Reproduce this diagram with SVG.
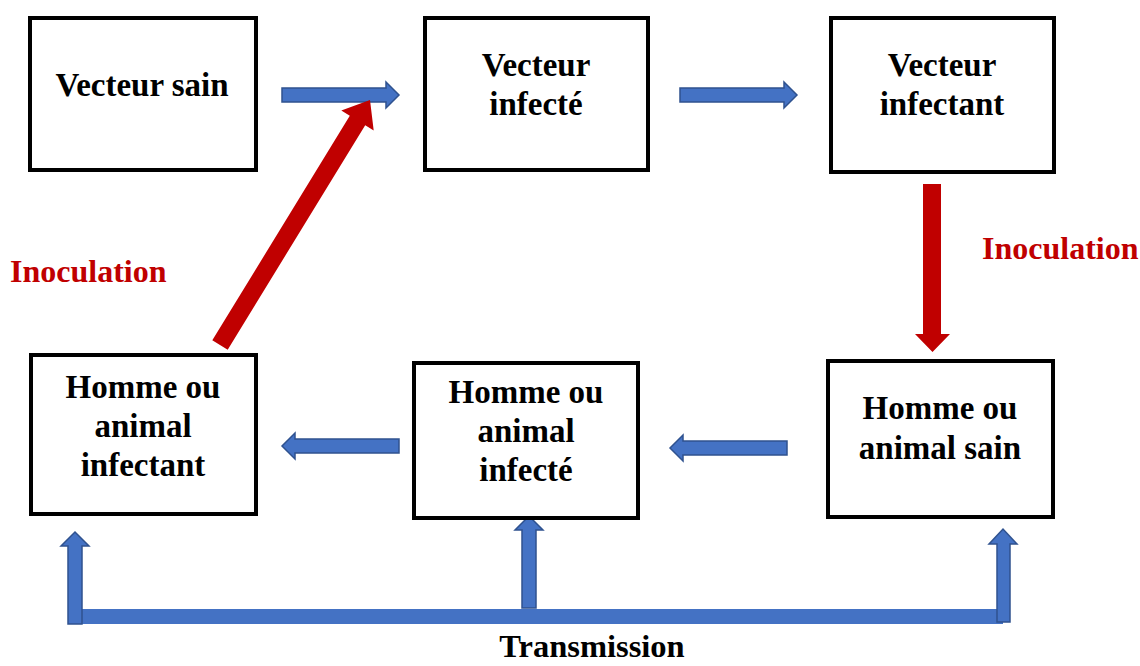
<svg xmlns="http://www.w3.org/2000/svg" width="1140" height="666" viewBox="0 0 1140 666">
<style>
.box{fill:#fff;stroke:#000;stroke-width:4}
.t{font-family:"Liberation Serif","Times New Roman",serif;font-weight:bold;font-size:33px;fill:#000;text-anchor:middle}
.r{font-family:"Liberation Serif","Times New Roman",serif;font-weight:bold;font-size:32px;fill:#C00000}
.b{fill:#4472C4;stroke:#2F528F;stroke-width:1.5}
.red{fill:#C00000}
</style>
<rect width="1140" height="666" fill="#fff"/>
<g id="connectors">
<polygon class="b" points="282,88 386,88 386,82 399,95 386,108 386,102 282,102"/>
<polygon class="b" points="680,88 784,88 784,82 797,95 784,108 784,102 680,102"/>
<polygon class="b" points="399,439 295,439 295,433 282,446 295,459 295,453 399,453"/>
<polygon class="b" points="787,441 683,441 683,435 670,448 683,461 683,455 787,455"/>
<rect x="75" y="609" width="928" height="15" fill="#4472C4"/>
<polygon class="b" points="68,624 68,546 61,546 75,532 89,546 82,546 82,624"/>
<polygon class="b" points="522,608 522,530 515,530 529,516 543,530 536,530 536,608"/>
<polygon class="b" points="997,622 997,544 989,544 1003,529 1017,544 1010,544 1010,622"/>
<polygon class="red" points="212.3,340.3 349.8,115.8 341.3,110.6 370,100 373.7,130.4 365.2,125.2 227.7,349.7"/>
<polygon class="red" points="923,184 941,184 941,334 950,334 932.5,352 915,334 923,334"/>
<text class="r" x="10" y="282">Inoculation</text>
<text class="r" x="982" y="259">Inoculation</text>
<text class="t" x="592" y="657" style="font-size:32.5px">Transmission</text>
</g>
<g id="n1"><rect class="box" x="30" y="18" width="226" height="152"/><text class="t" x="142" y="96">Vecteur sain</text></g>
<g id="n2"><rect class="box" x="425" y="18" width="223" height="152"/><text class="t" x="536" y="76">Vecteur</text><text class="t" x="536" y="115">infecté</text></g>
<g id="n3"><rect class="box" x="831" y="18" width="223" height="154"/><text class="t" x="942" y="76">Vecteur</text><text class="t" x="942" y="115">infectant</text></g>
<g id="n4"><rect class="box" x="31" y="355" width="225" height="159"/><text class="t" x="143" y="398">Homme ou</text><text class="t" x="143" y="437">animal</text><text class="t" x="143" y="476">infectant</text></g>
<g id="n5"><rect class="box" x="414" y="363" width="224" height="155"/><text class="t" x="526" y="403">Homme ou</text><text class="t" x="526" y="442">animal</text><text class="t" x="526" y="481">infecté</text></g>
<g id="n6"><rect class="box" x="828" y="361" width="225" height="156"/><text class="t" x="940" y="419">Homme ou</text><text class="t" x="940" y="459">animal sain</text></g>
</svg>
